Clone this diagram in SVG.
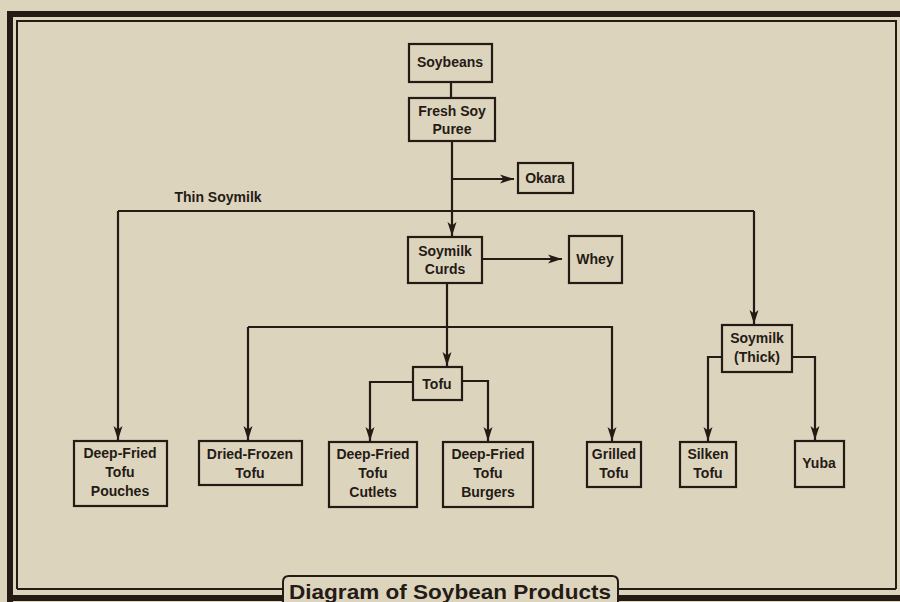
<svg xmlns="http://www.w3.org/2000/svg" width="900" height="602" viewBox="0 0 900 602">
<defs>
<marker id="ah" viewBox="0 0 14 10" refX="14" refY="5" markerWidth="14" markerHeight="10" markerUnits="userSpaceOnUse" orient="auto">
<path d="M0,0.5 L14,5 L0,9.5 L3.5,5 Z" fill="#241b15"/>
</marker>
</defs>
<style>
.bx{fill:none;stroke:#241b15;stroke-width:2.2}
.t{font-family:"Liberation Sans",Arial,sans-serif;font-weight:bold;font-size:14px;fill:#241b15;text-anchor:middle}
.c{fill:none;stroke:#241b15;stroke-width:2.2}
.a{marker-end:url(#ah)}
</style>
<rect width="900" height="602" fill="#ddd4be"/>
<!-- frame -->
<g id="frame" fill="none" stroke="#241b15">
<path d="M10,605 L10,14 L905,14" stroke-width="6"/>
<path d="M10,598 L283,598 M619,598 L905,598" stroke-width="6"/>
<path d="M17,589 L17,21 L896,21 L896,589" stroke-width="2"/>
<path d="M17,589 L283,589 M619,589 L896,589" stroke-width="2"/>
<path d="M283,602 L283,582 Q283,576 289,576 L612,576 Q618,576 618,582 L618,602" stroke-width="2"/>
<text x="450" y="599" font-family="'Liberation Sans Narrow','Liberation Sans',Arial,sans-serif" font-weight="bold" font-size="21" fill="#241b15" stroke="none" text-anchor="middle" textLength="322" lengthAdjust="spacingAndGlyphs">Diagram of Soybean Products</text>
</g>
<!-- connectors -->
<g id="connectors">
<path class="c" d="M451,82 L451,98"/>
<path class="c a" d="M452,141 L452,236"/>
<path class="c a" d="M452,179 L514,179"/>
<path class="c" d="M118,211 L754,211"/>
<path class="c a" d="M118,211 L118,440"/>
<path class="c a" d="M754,211 L754,324"/>
<path class="c a" d="M482,259 L562,259"/>
<path class="c" d="M447,283 L447,327"/>
<path class="c a" d="M447,327 L447,366"/>
<path class="c a" d="M248,327 L612,327 L612,441"/>
<path class="c a" d="M248,327 L248,440"/>
<path class="c a" d="M413,382 L370,382 L370,441"/>
<path class="c a" d="M462,381 L488,381 L488,441"/>
<path class="c a" d="M722,357 L708,357 L708,441"/>
<path class="c a" d="M792,357 L815,357 L815,440"/>
</g>
<text class="t" x="218" y="202">Thin Soymilk</text>
<g id="soybeans"><rect class="bx" x="409" y="44" width="83" height="38"/><text class="t" x="450" y="67">Soybeans</text></g>
<g id="puree"><rect class="bx" x="409" y="98" width="86" height="43"/><text class="t" x="452" y="116">Fresh Soy</text><text class="t" x="452" y="134">Puree</text></g>
<g id="okara"><rect class="bx" x="518" y="163" width="55" height="30"/><text class="t" x="545" y="183">Okara</text></g>
<g id="curds"><rect class="bx" x="408" y="237" width="74" height="46"/><text class="t" x="445" y="256">Soymilk</text><text class="t" x="445" y="274">Curds</text></g>
<g id="whey"><rect class="bx" x="569" y="236" width="53" height="47"/><text class="t" x="595" y="264">Whey</text></g>
<g id="thick"><rect class="bx" x="722" y="325" width="70" height="47"/><text class="t" x="757" y="343">Soymilk</text><text class="t" x="757" y="362">(Thick)</text></g>
<g id="tofu"><rect class="bx" x="413" y="367" width="49" height="33"/><text class="t" x="437" y="389">Tofu</text></g>
<g id="pouches"><rect class="bx" x="74" y="441" width="93" height="65"/><text class="t" x="120" y="458">Deep-Fried</text><text class="t" x="120" y="477">Tofu</text><text class="t" x="120" y="496">Pouches</text></g>
<g id="dried"><rect class="bx" x="199" y="441" width="103" height="44"/><text class="t" x="250" y="459">Dried-Frozen</text><text class="t" x="250" y="478">Tofu</text></g>
<g id="cutlets"><rect class="bx" x="329" y="442" width="88" height="65"/><text class="t" x="373" y="459">Deep-Fried</text><text class="t" x="373" y="478">Tofu</text><text class="t" x="373" y="497">Cutlets</text></g>
<g id="burgers"><rect class="bx" x="443" y="442" width="90" height="65"/><text class="t" x="488" y="459">Deep-Fried</text><text class="t" x="488" y="478">Tofu</text><text class="t" x="488" y="497">Burgers</text></g>
<g id="grilled"><rect class="bx" x="587" y="442" width="54" height="45"/><text class="t" x="614" y="459">Grilled</text><text class="t" x="614" y="478">Tofu</text></g>
<g id="silken"><rect class="bx" x="680" y="442" width="56" height="45"/><text class="t" x="708" y="459">Silken</text><text class="t" x="708" y="478">Tofu</text></g>
<g id="yuba"><rect class="bx" x="795" y="441" width="49" height="46"/><text class="t" x="819" y="468">Yuba</text></g>
</svg>
